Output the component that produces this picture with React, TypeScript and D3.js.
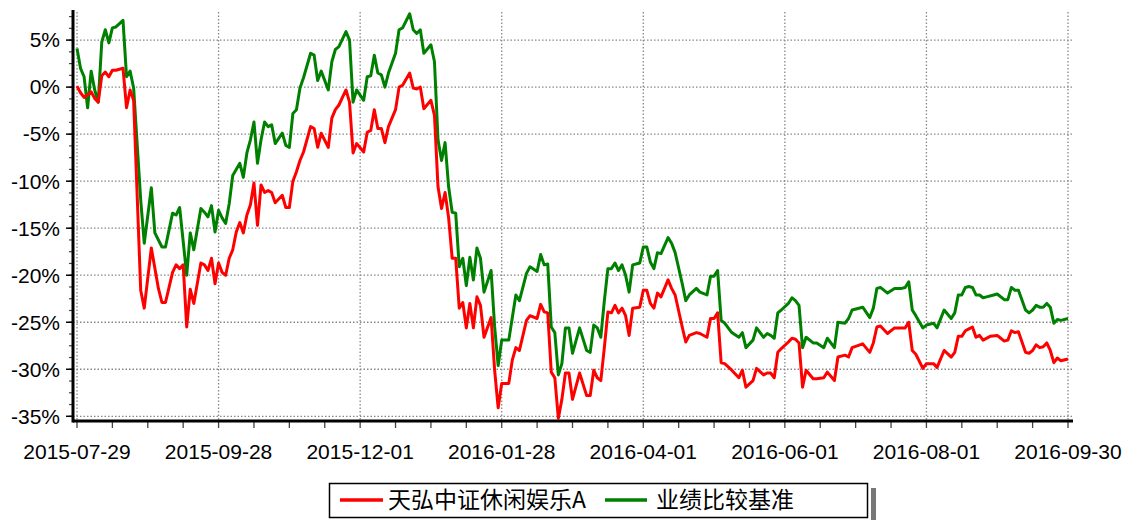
import * as d3 from "d3";

// trading-day index -> cumulative return (%)
const fundPoints: [number, number][] = [
  [0, 0.1], [1, -0.6], [2, -1.1], [4, -0.5], [5, -1.2], [6, -1.6], [7, 1.2], [8, 1.6], [9, 1.1], [10, 1.8],
  [11, 1.8], [13, 2.0], [14, -2.2], [15, -0.3], [16, -1.4], [18, -21.6], [19, -23.5], [21, -17.1], [23, -21.4],
  [24, -22.9], [25, -22.9], [27, -19.7], [28, -18.9], [29, -19.3], [30, -18.9], [31, -25.5], [32, -21.5],
  [33, -23.0], [35, -18.7], [36, -18.9], [37, -19.5], [38, -18.2], [39, -20.9], [40, -18.7], [41, -19.7],
  [42, -20.0], [43, -18.2], [44, -17.3], [45, -15.4], [46, -14.4], [47, -15.5], [48, -13.6], [49, -12.5],
  [50, -10.2], [51, -14.7], [52, -10.4], [53, -11.2], [54, -11.0], [55, -11.2], [56, -12.3], [58, -11.5],
  [59, -12.8], [60, -12.8], [61, -10.0], [62, -9.0], [63, -7.8], [64, -6.9], [66, -4.2], [67, -4.4],
  [68, -6.4], [69, -4.9], [71, -6.4], [72, -3.3], [73, -2.4], [74, -1.9], [76, -0.3], [77, -1.6], [78, -7.0],
  [79, -6.0], [81, -6.9], [82, -4.8], [83, -4.6], [84, -2.4], [85, -4.4], [86, -4.4], [87, -5.9], [88, -4.2],
  [90, -2.4], [91, 0], [92, 0.2], [94, 1.5], [95, -0.1], [96, -0.2], [97, 0], [98, -2.3], [100, -1.4],
  [101, -3.0], [102, -10.6], [103, -12.9], [104, -11.2], [105, -13.9], [106, -18.2], [107, -18.2],
  [108, -23.5], [109, -22.9], [110, -25.6], [111, -23.0], [112, -25.6], [113, -22.3], [114, -23.2],
  [115, -26.6], [117, -24.5], [118, -30.1], [119, -34.1], [120, -31.5], [122, -31.5], [123, -29.0],
  [124, -27.7], [125, -28.0], [127, -24.8], [128, -24.3], [130, -24.6], [131, -23.1], [132, -23.9],
  [133, -24.0], [134, -30.3], [135, -30.9], [136, -35.2], [137, -33.2], [138, -30.4], [139, -30.4],
  [140, -33.2], [142, -30.4], [144, -32.8], [145, -32.8], [146, -30.1], [147, -30.9], [148, -31.2],
  [149, -27.7], [150, -23.9], [151, -24.0], [152, -23.2], [153, -24.0], [154, -23.5], [155, -24.3],
  [156, -26.4], [157, -23.5], [159, -23.4], [160, -21.6], [161, -21.6], [162, -23.0], [163, -23.5],
  [164, -21.9], [165, -22.3], [167, -20.5], [168, -21.4], [169, -22.1], [171, -25.5], [172, -27.1],
  [173, -26.4], [175, -26.1], [176, -26.2], [178, -26.6], [179, -24.6], [180, -24.6], [181, -24.0],
  [182, -29.3], [183, -29.4], [185, -30.1], [187, -30.9], [188, -30.1], [189, -31.9], [191, -31.2],
  [192, -29.9], [194, -30.6], [195, -30.4], [196, -30.4], [197, -30.9], [198, -28.2], [199, -27.8],
  [201, -27.1], [202, -26.7], [203, -26.8], [204, -27.2], [205, -31.9], [206, -30.1], [208, -31.0],
  [209, -31.0], [211, -30.9], [212, -30.3], [214, -31.2], [215, -28.7], [217, -28.5], [218, -28.7],
  [219, -27.7], [222, -27.3], [224, -28.2], [225, -27.2], [226, -25.5], [227, -25.4], [229, -26.2],
  [231, -25.6], [233, -25.6], [234, -25.6], [235, -25.0], [236, -28.0], [237, -28.4], [239, -29.9],
  [240, -29.4], [242, -29.4], [243, -29.8], [245, -28.0], [247, -28.7], [248, -28.2], [249, -26.5],
  [250, -26.5], [251, -25.9], [252, -25.7], [253, -25.5], [254, -26.6], [255, -26.4], [256, -26.9],
  [258, -26.5], [260, -26.4], [261, -26.7], [262, -27.0], [263, -26.9], [264, -25.9], [265, -26.1],
  [266, -26.0], [268, -28.2], [269, -28.3], [270, -28.0], [271, -27.4], [272, -27.7], [273, -27.6],
  [274, -27.2], [275, -28.0], [276, -29.3], [277, -28.8], [278, -29.1], [280, -28.9],
];

const benchPoints: [number, number][] = [
  [0, 4.1], [1, 2.0], [2, 1.1], [3, -2.2], [4, 1.7], [5, -0.3], [6, -1.6], [7, 4.8], [8, 6.1], [9, 4.7],
  [10, 6.3], [11, 6.4], [13, 7.1], [14, 1.1], [15, 1.7], [16, -0.1], [18, -12.0], [19, -16.6], [21, -10.7],
  [22, -15.5], [24, -17.0], [25, -17.0], [27, -13.4], [28, -13.6], [29, -12.8], [31, -20.0], [32, -15.5],
  [33, -17.3], [35, -12.9], [36, -13.3], [37, -13.8], [38, -12.6], [39, -15.4], [40, -13.1], [41, -13.9],
  [42, -14.5], [43, -12.4], [44, -9.4], [46, -8.1], [47, -9.6], [48, -7.0], [49, -5.6], [50, -3.7],
  [51, -8.1], [52, -5.6], [53, -3.7], [54, -4.2], [55, -4.0], [56, -6.0], [58, -4.9], [59, -6.2], [60, -6.4],
  [61, -2.8], [62, -2.4], [63, -0.1], [64, 1.0], [66, 3.6], [67, 3.4], [68, 0.7], [69, 1.7], [71, -0.3],
  [72, 2.7], [73, 4.0], [74, 4.3], [76, 5.9], [77, 5.0], [78, -1.6], [79, -0.3], [81, -1.4], [82, 1.1],
  [83, 1.2], [84, 3.4], [85, 1.5], [86, 1.3], [87, 0], [88, 1.5], [90, 3.6], [91, 6.1], [92, 6.3], [94, 7.8],
  [95, 6.1], [96, 5.7], [97, 6.1], [98, 3.6], [100, 4.5], [101, 2.7], [102, -5.6], [103, -7.8], [104, -5.9],
  [105, -10.6], [106, -13.3], [107, -13.4], [108, -19.1], [109, -18.2], [110, -21.1], [111, -18.1],
  [112, -20.5], [113, -17.1], [114, -18.2], [115, -21.8], [117, -19.5], [118, -25.5], [119, -29.6],
  [120, -26.9], [122, -26.9], [123, -24.5], [124, -22.1], [125, -22.7], [127, -19.8], [128, -19.1],
  [130, -19.6], [131, -17.8], [132, -18.9], [133, -18.8], [134, -25.5], [135, -26.1], [136, -30.6],
  [137, -29.4], [138, -25.6], [139, -25.6], [140, -28.3], [142, -25.6], [144, -28.0], [145, -28.2],
  [146, -25.3], [147, -25.6], [148, -26.6], [149, -22.7], [150, -19.3], [151, -19.3], [152, -18.7],
  [153, -19.5], [154, -18.9], [155, -20.0], [156, -21.8], [157, -18.9], [159, -18.7], [160, -17.0],
  [161, -17.0], [162, -18.6], [163, -19.3], [164, -17.6], [165, -17.7], [167, -16.0], [168, -16.6],
  [169, -17.6], [171, -20.9], [172, -22.7], [173, -22.1], [175, -21.4], [176, -21.8], [178, -22.1],
  [179, -20.1], [180, -20.1], [181, -19.5], [182, -24.8], [183, -25.1], [185, -26.1], [187, -26.6],
  [188, -26.1], [189, -27.7], [191, -26.9], [192, -25.6], [194, -26.6], [195, -26.2], [196, -26.4],
  [197, -26.7], [198, -24.0], [199, -23.7], [201, -23.0], [202, -22.4], [203, -22.7], [204, -23.2],
  [205, -27.7], [206, -26.6], [208, -27.2], [209, -27.2], [211, -27.7], [212, -26.7], [214, -27.7],
  [215, -25.0], [217, -25.1], [218, -24.6], [219, -23.7], [222, -23.4], [224, -24.5], [225, -23.5],
  [226, -21.4], [227, -21.3], [229, -21.9], [231, -21.4], [233, -21.4], [234, -21.3], [235, -20.7],
  [236, -23.7], [237, -24.3], [239, -25.6], [240, -25.3], [242, -25.1], [243, -25.6], [245, -23.7],
  [247, -24.6], [248, -24.0], [249, -22.1], [250, -22.1], [251, -21.3], [252, -21.2], [253, -21.3],
  [254, -22.1], [255, -22.1], [256, -22.4], [257, -22.3], [259, -22.1], [260, -22.0], [262, -22.6],
  [263, -22.6], [264, -21.3], [265, -21.6], [266, -21.6], [268, -23.7], [269, -24.0], [270, -23.7],
  [271, -23.2], [272, -23.4], [273, -23.4], [274, -23.0], [275, -23.4], [276, -25.1], [277, -24.7],
  [278, -24.8], [280, -24.6],
];

const xTickDays = [0, 40, 80, 120, 160, 200, 240, 280];
const xTickLabels = ["2015-07-29", "2015-09-28", "2015-12-01", "2016-01-28", "2016-04-01", "2016-06-01", "2016-08-01", "2016-09-30"];
const yTicks = [5, 0, -5, -10, -15, -20, -25, -30, -35];
const seriesNames = ["天弘中证休闲娱乐A", "业绩比较基准"];
const seriesColors = ["#ff0000", "#008000"];

const W = 1130;
const H = 520;
const axisX = 73;
const axisY = 421;
const font = "Arial, 'Liberation Sans', sans-serif";

export default function App() {
  const x = d3.scaleLinear().domain([0, 280]).range([77, 1068]);
  const y = d3.scaleLinear().domain([-35.5, 8.2]).range([axisY, 10]);

  const line = d3
    .line<[number, number]>()
    .x((d) => x(d[0]))
    .y((d) => y(d[1]));

  const minorX = d3.range(0, 281, 10);
  const minorY = d3.range(-35, 8.2, 1.25);

  return (
    <svg width={W} height={H} style={{ position: "absolute", left: 0, top: 0, background: "#fff" }}>
      {/* grid */}
      <g stroke="#888" strokeWidth={1.3} strokeDasharray="1.5 2" fill="none">
        {yTicks.map((t) => (
          <line key={"gy" + t} x1={axisX} x2={1073} y1={y(t)} y2={y(t)} />
        ))}
        {xTickDays.map((d) => (
          <line key={"gx" + d} x1={x(d)} x2={x(d)} y1={12} y2={axisY} />
        ))}
      </g>

      {/* series */}
      <path d={line(benchPoints) || ""} fill="none" stroke={seriesColors[1]} strokeWidth={3} strokeLinejoin="round" />
      <path d={line(fundPoints) || ""} fill="none" stroke={seriesColors[0]} strokeWidth={3} strokeLinejoin="round" />

      {/* y axis */}
      <g stroke="#000">
        {minorY.map((t, i) => (
          <line key={"my" + i} x1={axisX - 4} x2={axisX} y1={y(t)} y2={y(t)} strokeWidth={1.2} stroke="#444" />
        ))}
        {yTicks.map((t) => (
          <line key={"ty" + t} x1={axisX - 7} x2={axisX} y1={y(t)} y2={y(t)} strokeWidth={1.5} />
        ))}
        <line x1={axisX} x2={axisX} y1={10} y2={axisY + 1.5} strokeWidth={3} />
      </g>
      {yTicks.map((t) => (
        <text key={"ly" + t} x={60} y={y(t)} dy="0.35em" textAnchor="end" fontFamily={font} fontSize={21} fill="#000">
          {t + "%"}
        </text>
      ))}

      {/* x axis */}
      <g stroke="#000">
        {minorX.map((d) => (
          <line key={"mx" + d} x1={x(d)} x2={x(d)} y1={axisY} y2={axisY + 7} strokeWidth={1.3} stroke="#444" />
        ))}
        <line x1={axisX} x2={1073} y1={axisY} y2={axisY} strokeWidth={3} />
      </g>
      {xTickDays.map((d, i) => (
        <text key={"lx" + d} x={x(d)} y={459} textAnchor="middle" fontFamily={font} fontSize={21} fill="#000">
          {xTickLabels[i]}
        </text>
      ))}

      {/* legend */}
      <rect x={871} y={488} width={5} height={32} fill="#777" />
      <rect x={329.5} y={483.5} width={538} height={34} fill="#fff" stroke="#000" strokeWidth={1.5} />
      <line x1={340} x2={383} y1={500} y2={500} stroke={seriesColors[0]} strokeWidth={3.5} />
      <text x={388} y={508} fontFamily="'Noto Sans CJK SC', sans-serif" fontSize={23} fill="#000">
        {seriesNames[0]}
      </text>
      <line x1={605} x2={647} y1={500} y2={500} stroke={seriesColors[1]} strokeWidth={3.5} />
      <text x={656} y={508} fontFamily="'Noto Sans CJK SC', sans-serif" fontSize={23} fill="#000">
        {seriesNames[1]}
      </text>
    </svg>
  );
}
